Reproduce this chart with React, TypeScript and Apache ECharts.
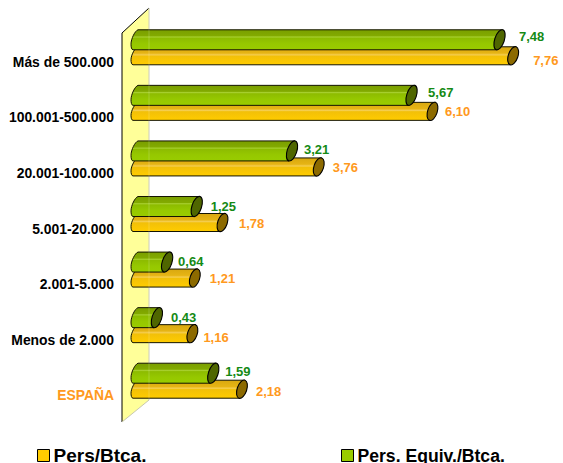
import React, { useEffect, useRef } from "react";
import * as echarts from "echarts";

const categories = ["Más de 500.000", "100.001-500.000", "20.001-100.000", "5.001-20.000", "2.001-5.000", "Menos de 2.000", "ESPAÑA"];
const persBtca = [7.76, 6.1, 3.76, 1.78, 1.21, 1.16, 2.18];
const persEquivBtca = [7.48, 5.67, 3.21, 1.25, 0.64, 0.43, 1.59];
const seriesNames = ["Pers/Btca.", "Pers. Equiv./Btca."];

const FONT = "'Liberation Sans', Arial, sans-serif";
const yellowNudge = [[20, 5], [12.5, 0], [14, 1], [16.5, 1], [15, 0], [11, 4], [14, 2]];
const greenNudge = [[19.5, -3], [16.5, -3], [12, -1], [14, 0], [11, -1], [14, 0], [12, -2]];

type Look = { top: number; bottom: number; stops: [number, string][]; cap: string; text: string; nudge: number[][]; color: string };

const looks: Look[] = [
  {
    top: -15, bottom: 3, cap: "#8C6A00", text: "#FF9920", nudge: yellowNudge, color: "#FFCC00",
    stops: [[0, "#D8A810"], [0.35, "#E6B414"], [0.45, "#F5CE50"], [0.52, "#F2C008"], [1, "#FFCC00"]],
  },
  {
    top: -32, bottom: -12, cap: "#4F6600", text: "#158A15", nudge: greenNudge, color: "#99CC00",
    stops: [[0, "#7A9E00"], [0.3, "#82AA00"], [0.36, "#A8D030"], [0.42, "#8DBC00"], [0.7, "#96C800"], [1, "#99CC00"]],
  },
];

function makeRender(look: Look) {
  return (params: any, api: any) => {
    const v = api.value(0);
    const idx = api.value(1);
    const end = api.coord([v, idx]);
    const start = api.coord([0, idx]);
    const X = end[0];
    const x0 = start[0];
    const t = end[1] + look.top;
    const b = end[1] + look.bottom;
    const h = b - t;
    const m = (t + b) / 2;
    const d =
      `M${x0 + 2} ${t}L${X + 3} ${t}L${X - 3} ${b}L${x0 - 3} ${b}` +
      `C${x0 - 4.5} ${b} ${x0 - 5} ${t + 0.85 * h} ${x0 - 5} ${t + 0.72 * h}` +
      `C${x0 - 5} ${t + 0.45 * h} ${x0 - 1} ${t + 1} ${x0 + 2} ${t}Z`;
    const [dx, dy] = look.nudge[idx];
    return {
      type: "group",
      children: [
        {
          type: "path",
          shape: { pathData: d },
          style: {
            fill: new echarts.graphic.LinearGradient(0, 0, 0, 1, look.stops.map(([offset, color]) => ({ offset, color }))),
            stroke: "#141400",
            lineWidth: 1,
          },
        },
        {
          type: "ellipse",
          x: X,
          y: m,
          rotation: 1.25,
          shape: { cx: 0, cy: 0, rx: h / 2 + 0.5, ry: 4.8 },
          style: { fill: look.cap, stroke: "#000", lineWidth: 1.1 },
        },
        {
          type: "text",
          x: X + dx,
          y: m + dy,
          style: {
            text: v.toFixed(2).replace(".", ","),
            fill: look.text,
            font: `bold 13px ${FONT}`,
            textAlign: "left",
            textVerticalAlign: "middle",
          },
        },
      ],
    };
  };
}

export default function App() {
  const ref = useRef<HTMLDivElement>(null);
  useEffect(() => {
    const chart = echarts.init(ref.current!, null, { renderer: "svg" });
    const legendBase = {
      itemWidth: 12,
      itemHeight: 12,
      itemGap: 0,
      padding: 0,
      icon: "rect",
      itemStyle: { borderColor: "#000", borderWidth: 1 },
    };
    const legendText = { fontFamily: FONT, fontWeight: "bold", color: "#000" };
    chart.setOption({
      animation: false,
      backgroundColor: "#fff",
      grid: { left: 136, top: 34, width: 388.8, height: 389 },
      xAxis: { type: "value", min: 0, max: 8, show: false },
      yAxis: {
        type: "category",
        inverse: true,
        data: categories,
        axisLine: { show: false },
        axisTick: { show: false },
        axisLabel: {
          margin: 22,
          fontFamily: FONT,
          fontWeight: "bold",
          fontSize: 13.9,
          color: (_: string, i: number) => (i === categories.length - 1 ? "#FF9920" : "#000"),
        },
      },
      legend: [
        { ...legendBase, top: 446, left: 37, data: [seriesNames[0]], textStyle: { ...legendText, fontSize: 19, padding: [0, 0, 1, -1] } },
        { ...legendBase, top: 446.5, left: 341, data: [seriesNames[1]], textStyle: { ...legendText, fontSize: 17.6, padding: [0, 0, 1, -1] } },
      ],
      graphic: [
        {
          type: "polygon",
          z: -1,
          shape: { points: [[122, 33], [149, 8], [149, 400], [122, 422]] },
          style: { fill: "#FFFF99", stroke: "none" },
        },
        { type: "polyline", z: -1, shape: { points: [[149, 8], [122, 33], [122, 422]] }, style: { fill: "none", stroke: "#000", lineWidth: 1 } },
        { type: "polyline", z: -1, shape: { points: [[122, 422], [149, 400], [149, 8]] }, style: { fill: "none", stroke: "#C8C8B0", lineWidth: 1 } },
        { type: "line", z: 10, shape: { x1: 149, y1: 8, x2: 149, y2: 400 }, style: { stroke: "rgba(255,255,255,0.18)", lineWidth: 1 } },
      ],
      series: [persBtca, persEquivBtca].map((vals, s) => ({
        type: "custom",
        name: seriesNames[s],
        clip: false,
        coordinateSystem: "cartesian2d",
        itemStyle: { color: looks[s].color },
        encode: { x: 0, y: 1 },
        renderItem: makeRender(looks[s]),
        data: vals.map((v, i) => [v, i]),
      })),
    });
    return () => chart.dispose();
  }, []);
  return <div ref={ref} style={{ position: "absolute", left: 0, top: 0, width: 563, height: 463 }} />;
}
